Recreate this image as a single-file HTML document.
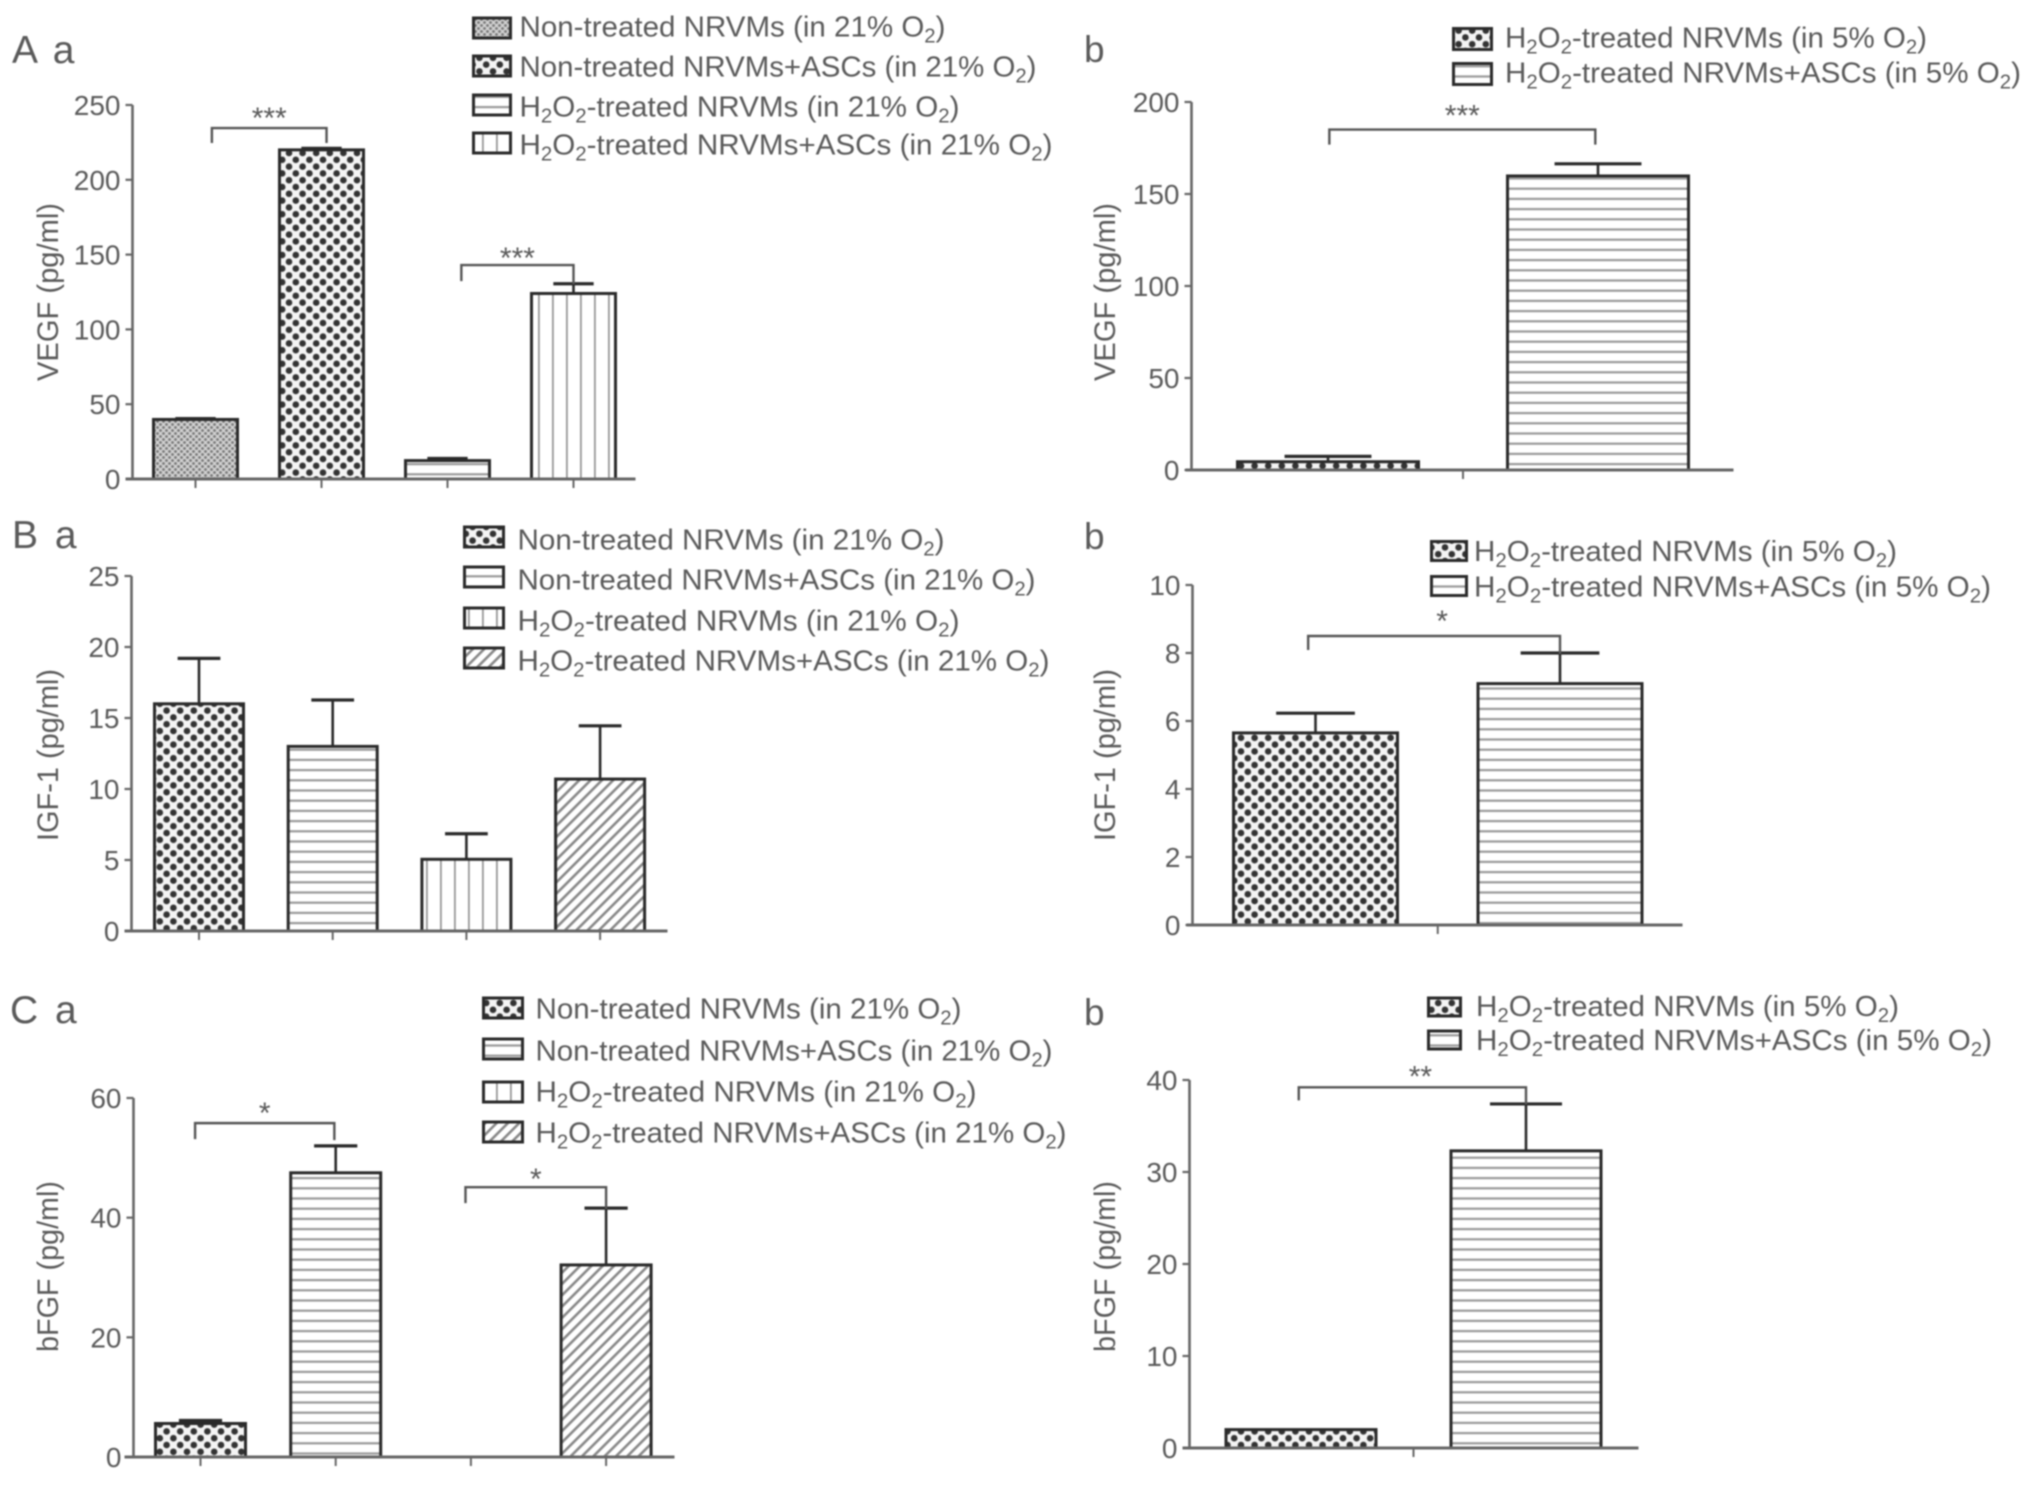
<!DOCTYPE html>
<html lang="en">
<head>
<meta charset="utf-8">
<title>Growth factor secretion bar charts</title>
<style>
html,body{margin:0;padding:0;background:#fff;}
#figure{display:block;width:2032px;height:1486px;filter:blur(.8px);font-family:"Liberation Sans",sans-serif;}
text{fill:#5a5a5a;}
.panel-label{word-spacing:6px;}
</style>
</head>
<body>
<svg id="figure" xmlns="http://www.w3.org/2000/svg" width="2032" height="1486" viewBox="0 0 2032 1486">
<defs>
<pattern id="fine" width="6" height="6" patternUnits="userSpaceOnUse"><rect width="6" height="6" fill="#d0d0d0"/><circle cx="1.5" cy="1.5" r="1.4" fill="#777"/><circle cx="4.5" cy="4.5" r="1.4" fill="#777"/></pattern>
<pattern id="checker" width="13.6" height="13.6" patternUnits="userSpaceOnUse"><rect width="13.6" height="13.6" fill="#f4f4f4"/><circle cx="3.4" cy="3.4" r="3.3" fill="#333"/><circle cx="10.2" cy="10.2" r="3.3" fill="#333"/></pattern>
<pattern id="horizontal" width="10" height="10.2" patternUnits="userSpaceOnUse"><rect width="10" height="10.2" fill="#fff"/><rect y="4" width="10" height="2.2" fill="#999"/></pattern>
<pattern id="vertical" width="14" height="10" patternUnits="userSpaceOnUse"><rect width="14" height="10" fill="#fff"/><rect x="6" width="1.8" height="10" fill="#999"/></pattern>
<pattern id="diagonal" width="8" height="8" patternUnits="userSpaceOnUse" patternTransform="rotate(45)"><rect width="8" height="8" fill="#fff"/><rect x="0" width="2.6" height="8" fill="#888"/></pattern>
</defs>
<rect width="2032" height="1486" fill="#fff"/>

<text class="panel-label" x="12" y="63" font-size="39" fill="#444">A a</text>
<text class="panel-label" x="1084" y="62" font-size="37" fill="#444">b</text>
<text class="panel-label" x="12" y="548" font-size="39" fill="#444">B a</text>
<text class="panel-label" x="1084" y="549" font-size="37" fill="#444">b</text>
<text class="panel-label" x="10" y="1023" font-size="39" fill="#444">C a</text>
<text class="panel-label" x="1084" y="1025" font-size="37" fill="#444">b</text>

<text transform="translate(58,381) rotate(-90)" font-size="30" textLength="178" lengthAdjust="spacingAndGlyphs">VEGF (pg/ml)</text>
<text transform="translate(1115,381) rotate(-90)" font-size="30" textLength="178" lengthAdjust="spacingAndGlyphs">VEGF (pg/ml)</text>
<text transform="translate(58,841) rotate(-90)" font-size="30" textLength="172" lengthAdjust="spacingAndGlyphs">IGF-1 (pg/ml)</text>
<text transform="translate(1115,841) rotate(-90)" font-size="30" textLength="172" lengthAdjust="spacingAndGlyphs">IGF-1 (pg/ml)</text>
<text transform="translate(58,1352) rotate(-90)" font-size="30" textLength="171" lengthAdjust="spacingAndGlyphs">bFGF (pg/ml)</text>
<text transform="translate(1115,1352) rotate(-90)" font-size="30" textLength="171" lengthAdjust="spacingAndGlyphs">bFGF (pg/ml)</text>
</svg>

<script>
// ---- Chart data ----
const normoxiaCategories = ["Non-treated NRVMs (in 21% O2)", "Non-treated NRVMs+ASCs (in 21% O2)", "H2O2-treated NRVMs (in 21% O2)", "H2O2-treated NRVMs+ASCs (in 21% O2)"];
const hypoxiaCategories = ["H2O2-treated NRVMs (in 5% O2)", "H2O2-treated NRVMs+ASCs (in 5% O2)"];

const vegfNormoxiaValues = [39.8, 220, 12.3, 124];
const vegfNormoxiaErrors = [0.6, 1, 1.4, 6.5];
const vegfNormoxiaTicks = [0, 50, 100, 150, 200, 250];

const vegfHypoxiaValues = [4.5, 159.8];
const vegfHypoxiaErrors = [2.9, 6.6];
const vegfHypoxiaTicks = [0, 50, 100, 150, 200];

const igfNormoxiaValues = [16, 13, 5.05, 10.7];
const igfNormoxiaErrors = [3.2, 3.27, 1.8, 3.75];
const igfNormoxiaTicks = [0, 5, 10, 15, 20, 25];

const igfHypoxiaValues = [5.65, 7.1];
const igfHypoxiaErrors = [0.58, 0.9];
const igfHypoxiaTicks = [0, 2, 4, 6, 8, 10];

const fgfNormoxiaValues = [5.6, 47.5, 0, 32.1];
const fgfNormoxiaErrors = [0.5, 4.5, 0, 9.5];
const fgfNormoxiaTicks = [0, 20, 40, 60];

const fgfHypoxiaValues = [2, 32.3];
const fgfHypoxiaErrors = [0, 5.1];
const fgfHypoxiaTicks = [0, 10, 20, 30, 40];

// ---- Panel layout ----
const panels = [
  {id:'a-a', axisX:132.5, top:105, base:479, axisL:125.5, axisR:635.5, first:195.5, step:126, barW:84, max:250,
   values:vegfNormoxiaValues, errors:vegfNormoxiaErrors, ticks:vegfNormoxiaTicks, hatch:['fine','checker','horizontal','vertical'], midTick:false,
   labels:normoxiaCategories, swatchX:473.5, swatchW:37, swatchH:20, swatchYs:[28,66,105,143], textX:519.5, textYs:[36.5,76.5,116.5,154.5], textWs:[426,517,440,533],
   brackets:[{from:.13,to:1.04,top:234.6,dropL:15,dropR:15,mark:'***',markDx:0,markDy:0},{from:2.11,to:3,top:143,dropL:16,dropR:19,mark:'***',markDx:0,markDy:3}]},
  {id:'a-b', axisX:1191.5, top:102, base:470, axisL:1185.5, axisR:1733.5, first:1328, step:270, barW:181, max:200,
   values:vegfHypoxiaValues, errors:vegfHypoxiaErrors, ticks:vegfHypoxiaTicks, hatch:['checker','horizontal'], midTick:true,
   labels:hypoxiaCategories, swatchX:1453.5, swatchW:38, swatchH:21, swatchYs:[39,74], textX:1505, textYs:[47.5,82.5], textWs:[422,516],
   brackets:[{from:0.005,to:.99,top:185,dropL:15,dropR:15,mark:'***',markDx:0,markDy:-4}]},
  {id:'b-a', axisX:131.5, top:576, base:931, axisL:124.5, axisR:667.5, first:199, step:133.7, barW:89, max:25,
   values:igfNormoxiaValues, errors:igfNormoxiaErrors, ticks:igfNormoxiaTicks, hatch:['checker','horizontal','vertical','diagonal'], midTick:false,
   labels:normoxiaCategories, swatchX:464.5, swatchW:39, swatchH:20, swatchYs:[537,577,618,658], textX:517.5, textYs:[549.5,589.5,630.5,670.5], textWs:[427,518,442,532],
   brackets:[]},
  {id:'b-b', axisX:1192.5, top:585, base:925, axisL:1186.5, axisR:1682.5, first:1315.5, step:244.5, barW:164, max:10,
   values:igfHypoxiaValues, errors:igfHypoxiaErrors, ticks:igfHypoxiaTicks, hatch:['checker','horizontal'], midTick:true,
   labels:hypoxiaCategories, swatchX:1431.5, swatchW:35, swatchH:19, swatchYs:[551,586], textX:1474, textYs:[561,596.5], textWs:[423,517],
   brackets:[{from:-.03,to:1,top:8.5,dropL:14,dropR:18,mark:'*',markDx:8,markDy:-5}]},
  {id:'c-a', axisX:133.5, top:1098, base:1457, axisL:124.5, axisR:674.5, first:200.5, step:135.2, barW:90, max:60,
   values:fgfNormoxiaValues, errors:fgfNormoxiaErrors, ticks:fgfNormoxiaTicks, hatch:['checker','horizontal','vertical','diagonal'], midTick:false,
   labels:normoxiaCategories, swatchX:483.5, swatchW:39, swatchH:20, swatchYs:[1008,1049,1092,1132], textX:535.5, textYs:[1018.5,1060.5,1101.5,1142.5], textWs:[426,517,441,531],
   brackets:[{from:-.04,to:.99,top:55.8,dropL:16,dropR:17,mark:'*',markDx:0,markDy:0},{from:1.96,to:3,top:45.1,dropL:16,dropR:22,mark:'*',markDx:0,markDy:2}]},
  {id:'c-b', axisX:1189.5, top:1080, base:1448, axisL:1182.5, axisR:1638.5, first:1301, step:225, barW:150, max:40,
   values:fgfHypoxiaValues, errors:fgfHypoxiaErrors, ticks:fgfHypoxiaTicks, hatch:['checker','horizontal'], midTick:true,
   labels:hypoxiaCategories, swatchX:1428.5, swatchW:32, swatchH:18, swatchYs:[1007,1040], textX:1476, textYs:[1016,1050], textWs:[423,516],
   brackets:[{from:-.01,to:1,top:39.2,dropL:13,dropR:17,mark:'**',markDx:8,markDy:-1}]}
];

const svg = document.getElementById('figure');
const NS = 'http://www.w3.org/2000/svg';

function make(tag, parent) {
  const el = document.createElementNS(NS, tag);
  parent.appendChild(el);
  return el;
}
function line(parent, x1, y1, x2, y2, color, width) {
  const el = make('line', parent);
  el.setAttribute('x1', x1);
  el.setAttribute('y1', y1);
  el.setAttribute('x2', x2);
  el.setAttribute('y2', y2);
  el.setAttribute('stroke', color);
  el.setAttribute('stroke-width', width);
  return el;
}
// Draws legend text with real subscript tspans for the "2" of H2O2 / O2
function richText(el, str) {
  const parts = str.split(/(?<=[HO])2/);
  parts.forEach(function (part, i) {
    const run = make('tspan', el);
    run.textContent = part;
    if (i > 0) run.setAttribute('dy', '-6');
    if (i < parts.length - 1) {
      const sub = make('tspan', el);
      sub.textContent = '2';
      sub.setAttribute('dy', '6');
      sub.setAttribute('font-size', '20');
    }
  });
}

panels.forEach(function (p) {
  const g = make('g', svg);
  
  

  const y = function (v) { return p.base - v / p.max * (p.base - p.top); };
  const x = function (i) { return p.first + i * p.step; };

  // bars
  p.values.forEach(function (v, i) {
    if (v <= 0) return;
    const errTop = y(v + p.errors[i]);
    if (p.errors[i] > 0) {
      const stem = line(g, x(i), y(v), x(i), errTop, '#2a2a2a', 2.6);
      
      
      const cap = line(g, x(i) - p.barW * .24, errTop, x(i) + p.barW * .24, errTop, '#2a2a2a', 3.2);
      
      
    }
    const bar = make('rect', g);
    bar.setAttribute('x', x(i) - p.barW / 2);
    bar.setAttribute('y', y(v));
    bar.setAttribute('width', p.barW);
    bar.setAttribute('height', p.base - y(v));
    bar.setAttribute('fill', 'url(#' + p.hatch[i] + ')');
    bar.setAttribute('stroke', '#2a2a2a');
    bar.setAttribute('stroke-width', 3);
    
    
  });

  // y axis
  const yAxis = line(g, p.axisX, p.top, p.axisX, p.base, '#666', 2.6);
  
  
  p.ticks.forEach(function (t) {
    const tick = line(g, p.axisX - 7, y(t), p.axisX, y(t), '#666', 2.2);
    
    
    const label = make('text', g);
    label.textContent = String(t);
    label.setAttribute('x', p.axisX - 12);
    label.setAttribute('y', y(t) + 10);
    label.setAttribute('text-anchor', 'end');
    label.setAttribute('font-size', '28');
    
    
  });

  // x axis
  const xAxis = line(g, p.axisL, p.base, p.axisR, p.base, '#666', 3);
  
  
  const tickIdx = p.midTick ? [.5] : p.values.map(function (_, i) { return i; });
  tickIdx.forEach(function (i) {
    const tick = line(g, x(i), p.base, x(i), p.base + 9, '#666', 2);
    
    
  });

  // significance brackets
  p.brackets.forEach(function (b, i) {
    const bx0 = x(b.from);
    const bx1 = x(b.to);
    const by = y(b.top);
    const path = make('path', g);
    path.setAttribute('d', 'M' + bx0 + ' ' + (by + b.dropL) + 'V' + by + 'H' + bx1 + 'V' + (by + b.dropR));
    path.setAttribute('fill', 'none');
    path.setAttribute('stroke', '#555');
    path.setAttribute('stroke-width', 2.4);
    
    
    const mark = make('text', g);
    mark.textContent = b.mark;
    mark.setAttribute('x', (bx0 + bx1) / 2 + b.markDx);
    mark.setAttribute('y', by + b.markDy);
    mark.setAttribute('text-anchor', 'middle');
    mark.setAttribute('font-size', '30');
    
    
  });

  // legend
  p.labels.forEach(function (labelText, i) {
    const swatch = make('rect', g);
    swatch.setAttribute('x', p.swatchX);
    swatch.setAttribute('y', p.swatchYs[i] - p.swatchH / 2);
    swatch.setAttribute('width', p.swatchW);
    swatch.setAttribute('height', p.swatchH);
    swatch.setAttribute('fill', 'url(#' + p.hatch[i] + ')');
    swatch.setAttribute('stroke', '#2a2a2a');
    swatch.setAttribute('stroke-width', 3);
    
    
    const text = make('text', g);
    text.setAttribute('x', p.textX);
    text.setAttribute('y', p.textYs[i]);
    text.setAttribute('font-size', '29');
    text.setAttribute('textLength', p.textWs[i]);
    text.setAttribute('lengthAdjust', 'spacingAndGlyphs');
    
    
    richText(text, labelText);
  });
});
</script>
</body>
</html>
